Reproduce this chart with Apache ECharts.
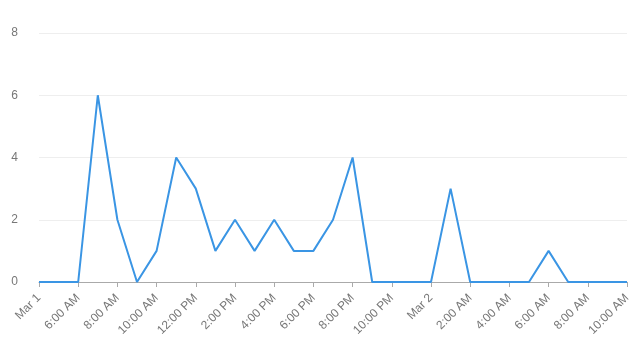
<!DOCTYPE html>
<html>
<head>
<meta charset="utf-8">
<script src="https://cdn.jsdelivr.net/npm/echarts@6/dist/echarts.min.js"></script>
<style>html,body{margin:0;padding:0;background:#fff}#c{width:630px;height:349px}</style>
</head>
<body>
<div id="c"></div>
<script>
const categories = ["Mar 1","5:00 AM","6:00 AM","7:00 AM","8:00 AM","9:00 AM","10:00 AM","11:00 AM","12:00 PM","1:00 PM","2:00 PM","3:00 PM","4:00 PM","5:00 PM","6:00 PM","7:00 PM","8:00 PM","9:00 PM","10:00 PM","11:00 PM","Mar 2","1:00 AM","2:00 AM","3:00 AM","4:00 AM","5:00 AM","6:00 AM","7:00 AM","8:00 AM","9:00 AM","10:00 AM"];
const values = [0,0,0,6,2,0,1,4,3,1,2,1,2,1,1,2,4,0,0,0,0,3,0,0,0,0,1,0,0,0,0];
const yTicks = [0,2,4,6,8];

const chart = echarts.init(document.getElementById('c'));
chart.setOption({
  animation: false,
  grid: {left: 39, right: 3, top: 33, bottom: 67, containLabel: false, outerBoundsMode: 'none'},
  xAxis: {
    type: 'category',
    data: categories,
    boundaryGap: false,
    axisLine: {lineStyle: {color: '#aaa'}},
    axisTick: {interval: 1, length: 5, lineStyle: {color: '#aaa'}},
    axisLabel: {interval: 1, rotate: 45, color: '#777', fontSize: 12, fontFamily: 'Liberation Sans, Arial, sans-serif', margin: 14, hideOverlap: false}
  },
  yAxis: {
    type: 'value',
    min: yTicks[0], max: yTicks[yTicks.length-1], interval: 2,
    axisLine: {show: false},
    axisTick: {show: false},
    splitLine: {lineStyle: {color: '#eee'}},
    axisLabel: {color: '#777', fontSize: 12, fontFamily: 'Liberation Sans, Arial, sans-serif', margin: 21}
  },
  series: [{
    type: 'line',
    data: values,
    showSymbol: false,
    lineStyle: {color: '#3a95e4', width: 2},
    itemStyle: {color: '#3a95e4'}
  }]
});
</script>
</body>
</html>
